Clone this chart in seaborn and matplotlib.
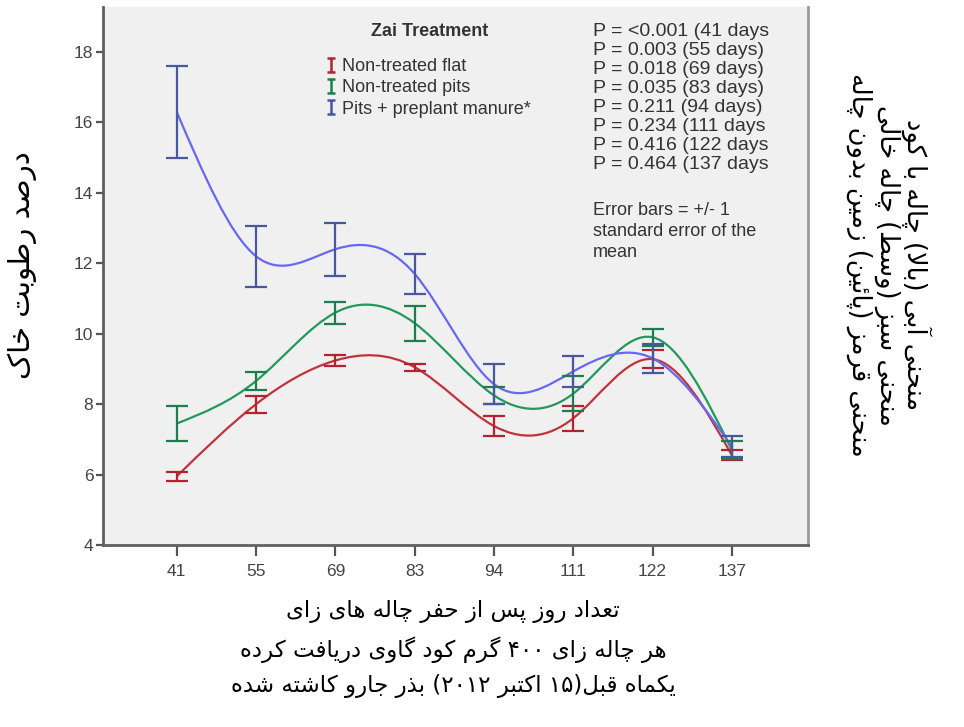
import re
import numpy as np
import seaborn as sns
import matplotlib
matplotlib.use('Agg')
import matplotlib.pyplot as plt
from matplotlib.path import Path
from matplotlib.patches import PathPatch
from matplotlib.lines import Line2D

# Data (mean soil moisture %, +/- 1 SE)
days = ['41', '55', '69', '83', '94', '111', '122', '137']
flat_mean = [5.95, 8.0, 9.24, 9.05, 7.38, 7.6, 9.28, 6.55]
flat_se = [0.13, 0.24, 0.15, 0.1, 0.28, 0.36, 0.25, 0.15]
pits_mean = [7.45, 8.66, 10.6, 10.3, 8.25, 8.3, 9.9, 6.7]
pits_se = [0.5, 0.26, 0.31, 0.5, 0.25, 0.5, 0.24, 0.25]
manure_mean = [16.3, 12.2, 12.4, 11.7, 8.57, 8.93, 9.3, 6.8]
manure_se = [1.3, 0.87, 0.75, 0.57, 0.57, 0.45, 0.42, 0.3]

series_names = ['Non-treated flat', 'Non-treated pits', 'Pits + preplant manure*']
p_lines = ['P = <0.001 (41 days', 'P = 0.003 (55 days)', 'P = 0.018 (69 days)',
           'P = 0.035 (83 days)', 'P = 0.211 (94 days)', 'P = 0.234 (111 days',
           'P = 0.416 (122 days', 'P = 0.464 (137 days']
note_lines = ['Error bars = +/- 1', 'standard error of the', 'mean']

ylabel_fa = 'درصد رطوبت خاک'
xlabel_fa = ['تعداد روز پس از حفر چاله های زای',
             'هر چاله زای ۴۰۰ گرم کود گاوی دریافت کرده',
             'یکماه قبل(۱۵ اکتبر ۲۰۱۲) بذر جارو کاشته شده']
right_fa = ['منحنی آبی (بالا) چاله با کود',
            'منحنی سبز (وسط) چاله خالی',
            'منحنی قرمز (پائین) زمین بدون چاله']

# --- minimal Persian shaping (matplotlib has no complex text layout) ---
FORMS = {
    'ا': ('\uFE8D', '\uFE8E', None, None), 'آ': ('\uFE81', '\uFE82', None, None),
    'د': ('\uFEA9', '\uFEAA', None, None), 'ذ': ('\uFEAB', '\uFEAC', None, None),
    'ر': ('\uFEAD', '\uFEAE', None, None), 'ز': ('\uFEAF', '\uFEB0', None, None),
    'و': ('\uFEED', '\uFEEE', None, None),
    'ب': ('\uFE8F', '\uFE90', '\uFE91', '\uFE92'), 'پ': ('\uFB56', '\uFB57', '\uFB58', '\uFB59'),
    'ت': ('\uFE95', '\uFE96', '\uFE97', '\uFE98'), 'ج': ('\uFE9D', '\uFE9E', '\uFE9F', '\uFEA0'),
    'چ': ('\uFB7A', '\uFB7B', '\uFB7C', '\uFB7D'), 'ح': ('\uFEA1', '\uFEA2', '\uFEA3', '\uFEA4'),
    'خ': ('\uFEA5', '\uFEA6', '\uFEA7', '\uFEA8'), 'س': ('\uFEB1', '\uFEB2', '\uFEB3', '\uFEB4'),
    'ش': ('\uFEB5', '\uFEB6', '\uFEB7', '\uFEB8'), 'ص': ('\uFEB9', '\uFEBA', '\uFEBB', '\uFEBC'),
    'ط': ('\uFEC1', '\uFEC2', '\uFEC3', '\uFEC4'), 'ع': ('\uFEC9', '\uFECA', '\uFECB', '\uFECC'),
    'ف': ('\uFED1', '\uFED2', '\uFED3', '\uFED4'), 'ق': ('\uFED5', '\uFED6', '\uFED7', '\uFED8'),
    'ک': ('\uFB8E', '\uFB8F', '\uFB90', '\uFB91'), 'گ': ('\uFB92', '\uFB93', '\uFB94', '\uFB95'),
    'ل': ('\uFEDD', '\uFEDE', '\uFEDF', '\uFEE0'), 'م': ('\uFEE1', '\uFEE2', '\uFEE3', '\uFEE4'),
    'ن': ('\uFEE5', '\uFEE6', '\uFEE7', '\uFEE8'), 'ه': ('\uFEE9', '\uFEEA', '\uFEEB', '\uFEEC'),
    'ی': ('\uFBFC', '\uFBFD', '\uFBFE', '\uFBFF'), 'ئ': ('\uFE89', '\uFE8A', '\uFE8B', '\uFE8C'),
}
LAM_ALEF = {'ا': ('\uFEFB', '\uFEFC'), 'آ': ('\uFEF5', '\uFEF6')}


def fa(text):
    def joins_next(c):
        return c in FORMS and FORMS[c][2] is not None
    out = []
    i = 0
    while i < len(text):
        c = text[i]
        if c not in FORMS:
            out.append(c)
            i += 1
            continue
        link_prev = i > 0 and joins_next(text[i - 1])
        if c == 'ل' and i + 1 < len(text) and text[i + 1] in LAM_ALEF:
            out.append(LAM_ALEF[text[i + 1]][1 if link_prev else 0])
            i += 2
            continue
        link_next = joins_next(c) and i + 1 < len(text) and text[i + 1] in FORMS
        iso, fin, ini, med = FORMS[c]
        if link_prev and link_next:
            out.append(med)
        elif link_prev:
            out.append(fin)
        elif link_next:
            out.append(ini)
        else:
            out.append(iso)
        i += 1
    tokens = re.findall(r'[0-9\u06F0-\u06F9]+|.', ''.join(out))
    mirror = {'(': ')', ')': '('}
    return ''.join(mirror.get(t, t) for t in reversed(tokens))


def spline_path(y):
    # natural cubic spline through the means, drawn as bezier segments
    y = np.asarray(y, dtype=float)
    n = len(y)
    A = np.zeros((n, n))
    b = np.zeros(n)
    A[0, 0], A[0, 1], b[0] = 2, 1, 3 * (y[1] - y[0])
    for i in range(1, n - 1):
        A[i, i - 1], A[i, i], A[i, i + 1] = 1, 4, 1
        b[i] = 3 * (y[i + 1] - y[i - 1])
    A[-1, -2], A[-1, -1], b[-1] = 1, 2, 3 * (y[-1] - y[-2])
    d = np.linalg.solve(A, b)
    verts = [(0, y[0])]
    codes = [Path.MOVETO]
    for i in range(n - 1):
        verts += [(i + 1 / 3, y[i] + d[i] / 3), (i + 2 / 3, y[i + 1] - d[i + 1] / 3), (i + 1, y[i + 1])]
        codes += [Path.CURVE4] * 3
    return Path(verts, codes)


sns.set_style('ticks')
plt.rcParams['font.family'] = ['Liberation Sans', 'DejaVu Sans']

fig = plt.figure(figsize=(9.64, 7.27), dpi=100)
fig.patch.set_facecolor('white')
ax = fig.add_axes([103 / 964, 1 - 545 / 727, 705 / 964, 538 / 727])
ax.set_facecolor('#f0f0f0')

line_colors = ['#c1333c', '#21995a', '#6767f2']
bar_colors = ['#b3222e', '#1b7e4c', '#48579f']
means = [flat_mean, pits_mean, manure_mean]
ses = [flat_se, pits_se, manure_se]
x = np.arange(len(days))

# small I-beam glyph for the legend keys
ibeam = Path([(-0.55, 1), (0.55, 1), (0, 1), (0, -1), (-0.55, -1), (0.55, -1)],
             [Path.MOVETO, Path.LINETO, Path.MOVETO, Path.LINETO, Path.MOVETO, Path.LINETO])

handles = []
for m, s, lc, bc in zip(means, ses, line_colors, bar_colors):
    ax.add_patch(PathPatch(spline_path(m), facecolor='none', edgecolor=lc, lw=1.6, zorder=2))
    ax.errorbar(x, m, yerr=s, fmt='none', ecolor=bc, elinewidth=1.6,
                capsize=8, capthick=1.6, zorder=3)
    handles.append(Line2D([], [], linestyle='none', marker=ibeam, markersize=10.5,
                          markeredgecolor=bc, markeredgewidth=1.8, markerfacecolor='none'))

ax.set_xlim(-0.93, 7.96)
ax.set_ylim(4, 19.28)
ax.set_xticks(x)
ax.set_xticklabels(days)
ax.set_yticks(np.arange(4, 19, 2))
ax.tick_params(axis='both', colors='#555555', labelcolor='#444444', labelsize=12.5, width=1.6)
ax.tick_params(axis='x', length=8, pad=6)
ax.tick_params(axis='y', length=5, pad=2)
for side in ['left', 'bottom']:
    ax.spines[side].set_color('#606060')
    ax.spines[side].set_linewidth(2)
ax.spines['right'].set_color('#9a9a9a')
ax.spines['right'].set_linewidth(2)
ax.spines['top'].set_visible(False)

leg = ax.legend(handles, series_names, loc='upper left', bbox_to_anchor=(326 / 964, 1 - 58 / 727),
                bbox_transform=fig.transFigure, frameon=False, fontsize=13,
                handlelength=0.5, handletextpad=0.4, labelspacing=0.24,
                borderpad=0, borderaxespad=0)
for t in leg.get_texts():
    t.set_color('#333333')
fig.text(430 / 964, 1 - 32 / 727, 'Zai Treatment', ha='center', va='center',
         fontsize=13, fontweight='bold', color='#333333')

fig.text(593 / 964, 1 - 23 / 727, '\n'.join(p_lines), ha='left', va='top',
         fontsize=14, linespacing=1.15, color='#333333')
fig.text(593 / 964, 1 - 202 / 727, '\n'.join(note_lines), ha='left', va='top',
         fontsize=13, linespacing=1.3, color='#333333')

fig.text(22 / 964, 1 - 265 / 727, fa(ylabel_fa), rotation=90, ha='center', va='center',
         fontsize=21, family='DejaVu Sans', color='black')
fig.text(889 / 964, 1 - 265 / 727, '\n'.join(fa(t) for t in right_fa), rotation=-90,
         ha='center', va='center', multialignment='center', fontsize=18.5,
         linespacing=1.05, family='DejaVu Sans', color='black')
fig.text(453 / 964, 1 - 649 / 727, '\n'.join(fa(t) for t in xlabel_fa), ha='center',
         va='center', multialignment='center', fontsize=16.5, linespacing=1.65,
         family='DejaVu Sans', color='black')

fig.savefig('out.png', dpi=100)
